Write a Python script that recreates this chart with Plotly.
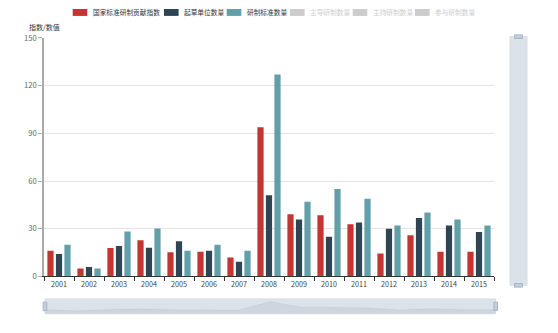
import plotly.graph_objects as go

# ---------------- data ----------------
years = ["2001", "2002", "2003", "2004", "2005", "2006", "2007", "2008",
         "2009", "2010", "2011", "2012", "2013", "2014", "2015"]
contribution_index = [16.2, 5, 17.9, 22.7, 15.2, 15.6, 11.9, 93.8,
                      39.1, 38.5, 32.9, 14.4, 25.9, 15.6, 15.6]
drafting_units = [14.1, 6, 19.1, 18.1, 22.2, 16.2, 9.3, 51.1,
                  35.8, 25, 34, 30, 36.8, 32, 28]
standards_count = [20, 5, 28.2, 30.1, 16.2, 20, 16.2, 127,
                   47, 55, 48.9, 32, 40.2, 35.8, 32]

legend_names = ["国家标准研制贡献指数", "起草单位数量", "研制标准数量",
                "主导研制数量", "主持研制数量", "参与研制数量"]
legend_active = [True, True, True, False, False, False]
y_title = "指数/数值"
y_ticks = [0, 30, 60, 90, 120, 150]

colors = ["#c23531", "#2f4554", "#61a0a8"]
series = [contribution_index, drafting_units, standards_count]

# ---------------- layout helpers ----------------
W, H = 558, 333
ML, MR, MT, MB = 44, 30, 36, 14
PW, PH = W - ML - MR, H - MT - MB


def px(x):
    return (x - ML) / PW


def py(y):
    return (H - MB - y) / PH


FONT = "Noto Sans CJK SC, Noto Sans, sans-serif"

fig = go.Figure()

for name, vals, col in zip(legend_names[:3], series, colors):
    fig.add_trace(go.Bar(x=years, y=vals, name=name, marker_color=col,
                         marker_line_width=0, showlegend=False,
                         xaxis="x", yaxis="y"))

# data shadow of the slider (first series)
lo = min(contribution_index)
hi = max(contribution_index)
off = (hi - lo) * 0.3
shadow_vals = [v - (lo - off) for v in contribution_index]
fig.add_trace(go.Scatter(x=list(range(len(years))), y=shadow_vals,
                         mode="lines", fill="tozeroy",
                         line=dict(color="rgba(47,69,84,0.12)", width=0.5),
                         fillcolor="rgba(47,69,84,0.08)",
                         showlegend=False, hoverinfo="skip",
                         xaxis="x2", yaxis="y2"))

shapes = []
# bottom slider
shapes.append(dict(type="rect", xref="paper", yref="paper",
                   x0=px(45), x1=px(495.7), y0=py(316.7), y1=py(301.7),
                   fillcolor="rgba(167,183,203,0.4)",
                   line=dict(color="#dddddd", width=1), layer="below"))
for hx in (45, 495.7):
    shapes.append(dict(type="rect", xref="paper", yref="paper",
                       x0=px(hx - 1.8), x1=px(hx + 1.8),
                       y0=py(313.5), y1=py(305),
                       fillcolor="#c3cedb",
                       line=dict(color="#a7b7cb", width=1)))
# right slider
shapes.append(dict(type="rect", xref="paper", yref="paper",
                   x0=px(510), x1=px(527), y0=py(288), y1=py(36.7),
                   fillcolor="rgba(167,183,203,0.4)",
                   line=dict(color="#dddddd", width=1), layer="below"))
for hy in (36.7, 288):
    shapes.append(dict(type="rect", xref="paper", yref="paper",
                       x0=px(514.5), x1=px(522.5),
                       y0=py(hy + 1.8), y1=py(hy - 1.8),
                       fillcolor="#c3cedb",
                       line=dict(color="#a7b7cb", width=1)))

# manual legend
annotations = []
icon_x = [72.7, 164, 226.7, 290, 352.7, 415]
for name, active, ix, i in zip(legend_names, legend_active, icon_x, range(6)):
    col = colors[i] if active else "#cccccc"
    shapes.append(dict(type="rect", xref="paper", yref="paper",
                       x0=px(ix), x1=px(ix + 14.6), y0=py(15.7), y1=py(8.7),
                       fillcolor=col, line=dict(width=0)))
    annotations.append(dict(text=name, xref="paper", yref="paper",
                            x=px(ix + 17.8), y=py(12.2), xanchor="left",
                            yanchor="middle", showarrow=False,
                            font=dict(family=FONT, size=6.7,
                                      color="#333333" if active else "#cccccc")))

annotations.append(dict(text=y_title, xref="paper", yref="paper",
                        x=px(44), y=py(26.7), xanchor="center",
                        yanchor="middle", showarrow=False,
                        font=dict(family=FONT, size=7, color="#333333")))

fig.update_layout(
    width=W, height=H, autosize=False,
    margin=dict(l=ML, r=MR, t=MT, b=MB, pad=0),
    paper_bgcolor="white", plot_bgcolor="white",
    font=dict(family=FONT, size=7, color="#333333"),
    barmode="group", bargap=0.15, bargroupgap=0.27,
    showlegend=False,
    xaxis=dict(domain=[0, px(494)], type="category",
               range=[-0.5, len(years) - 0.5],
               showline=True, linecolor="#333333", linewidth=1,
               ticks="outside", tickson="boundaries", ticklen=4,
               tickcolor="#333333", showgrid=False, zeroline=False,
               ticklabelstandoff=1,
               tickfont=dict(family=FONT, size=7.2, color="#444444"),
               fixedrange=True),
    yaxis=dict(domain=[py(279), py(38)], range=[0, 150],
               tickvals=y_ticks, showline=True, linecolor="#aaaaaa",
               linewidth=1.5, ticks="outside", ticklen=4,
               tickcolor="#aaaaaa", showgrid=True, gridcolor="#e3e3e3",
               gridwidth=1, zeroline=False,
               tickfont=dict(family=FONT, size=7.6, color="#666666"),
               fixedrange=True),
    xaxis2=dict(domain=[px(45), px(495.7)], anchor="y2",
                range=[0, len(years) - 1], visible=False, fixedrange=True),
    yaxis2=dict(domain=[py(316.7), py(301.7)], anchor="x2",
                range=[0, (hi + off) - (lo - off)], visible=False,
                fixedrange=True),
    shapes=shapes,
    annotations=annotations,
)

fig.write_html("out.html")
